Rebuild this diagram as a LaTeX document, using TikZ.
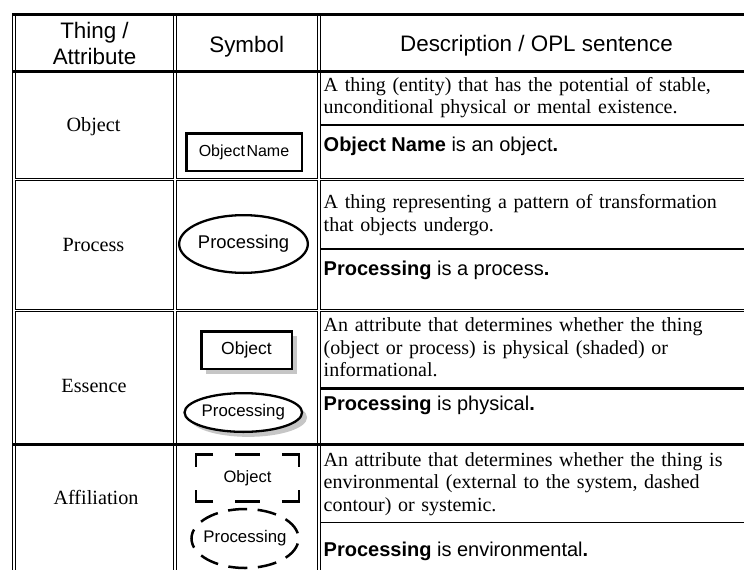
\documentclass[tikz,border=0pt]{standalone}
\usepackage{fontspec}
\setmainfont{Liberation Serif}
\setsansfont{Liberation Sans}
\usetikzlibrary{shapes.geometric,shadows}

\tikzset{
  cellbox/.style={line width=1pt},
  heavyrule/.style={line width=3pt},
  hdr/.style={anchor=base, inner sep=0pt, align=center, font=\sffamily\fontsize{22.4}{25.7}\selectfont},
  lbl/.style={anchor=base, inner sep=0pt, font=\fontsize{20.2}{22.5}\selectfont},
  desc/.style={anchor=base west, inner sep=0pt, text width=418pt, align=left, font=\fontsize{20}{22.5}\selectfont},
  opl/.style={anchor=base west, inner sep=0pt, font=\sffamily\fontsize{20}{22}\selectfont},
  objbox/.style={draw, rectangle, line width=2.5pt, inner sep=0pt, fill=white, font=\sffamily\fontsize{17.5}{20}\selectfont},
  procell/.style={draw, ellipse, line width=2.3pt, inner sep=0pt, fill=white, font=\sffamily\fontsize{16.8}{20}\selectfont},
  physical/.style={drop shadow={shadow xshift=5pt, shadow yshift=-5pt, fill=gray!45, opacity=1}},
  envir/.style={line width=2.5pt},
}

\begin{document}
\begin{tikzpicture}[x=1pt,y=-1pt]
	\clip (0,0) rectangle (744,570);
	% table cells
	\foreach \ya/\yb in {14.8/71.3, 71.3/178.3, 180.7/309, 311.3/444.3, 444.3/590} {
		\foreach \xa/\xb in {15.3/173.6, 176.1/317.6, 320.3/760} {
			\draw[cellbox] (\xa,\ya) rectangle (\xb,\yb);
		}
	}
	\draw[cellbox] (12.5,13.3) -- (12.5,600);
	\foreach \y in {14.8, 71.3, 444.3} {
		\draw[heavyrule] (11.9,\y) -- (760,\y);
	}
	% splits in the description column
	\foreach \y/\w in {125/1.3, 248.8/1.5, 388.3/2.4, 522.3/1.5} {
		\draw[line width=\w pt] (320.3,\y) -- (760,\y);
	}

	% header
	\node[hdr] (hthing) at (94.5,64.5) {Thing /\\Attribute};
	\node[hdr] (hsym) at (246.7,52.3) {Symbol};
	\node[hdr] (hdesc) at (536.5,51.5) {Description / OPL sentence};

	% row labels
	\node[lbl] (lobject) at (93.5,131.7) {Object};
	\node[lbl] (lprocess) at (93.5,251.3) {Process};
	\node[lbl] (lessence) at (94,392.5) {Essence};
	\node[lbl] (laffil) at (96,504) {Affiliation};

	% symbols
	\node[objbox, minimum width=115.5pt, minimum height=37.5pt, font=\sffamily\fontsize{16}{18}\selectfont] (sobject) at (244,152) {Object\hspace{1.5pt}Name};
	\node[procell, minimum width=120.7pt, minimum height=57.7pt, font=\sffamily\fontsize{18.4}{20}\selectfont] (sprocess) at (243.5,244) {Processing};
	\node[objbox, physical, minimum width=90.5pt, minimum height=37.5pt] (eobject) at (246.5,350) {Object};
	\node[procell, physical, minimum width=99pt, minimum height=38.7pt] (eprocess) at (243.3,412.5) {Processing};
	\node[inner sep=0pt, minimum width=102.5pt, minimum height=46.6pt, font=\sffamily\fontsize{16.5}{20}\selectfont] (aobject) at (247.5,478) {Object};
	\node[procell, draw=none, fill=none, minimum width=107pt, minimum height=59pt] (aprocess) at (245,538.5) {Processing};

	% dashed contours
	\draw[envir] ([xshift=17pt]aobject.north west) -- (aobject.north west) -- ([yshift=-12pt]aobject.north west);
	\draw[envir] ([xshift=-17pt]aobject.north east) -- (aobject.north east) -- ([yshift=-12pt]aobject.north east);
	\draw[envir] ([xshift=17pt]aobject.south west) -- (aobject.south west) -- ([yshift=12pt]aobject.south west);
	\draw[envir] ([xshift=-17pt]aobject.south east) -- (aobject.south east) -- ([yshift=12pt]aobject.south east);
	\draw[envir] ([xshift=-12.5pt]aobject.north) -- ([xshift=12.5pt]aobject.north);
	\draw[envir] ([xshift=-12.5pt]aobject.south) -- ([xshift=12.5pt]aobject.south);
	\draw[envir, dash pattern=on 19pt off 10.6pt, dash phase=24.3pt] (aprocess.center) ellipse [x radius=53.5pt, y radius=29.5pt];

	% descriptions and OPL sentences
	\node[desc] (dobject) at (323.5,91) {A thing (entity) that has the potential of stable,\\unconditional physical or mental existence.};
	\node[opl] (oobject) at (323.5,151) {\textbf{Object Name} is an object\textbf{.}};
	\node[desc] (dprocess) at (323.5,208.5) {A thing representing a pattern of transformation\\that objects undergo.};
	\node[opl] (oprocess) at (323.5,275) {\textbf{Processing} is a process\textbf{.}};
	\node[desc] (dessence) at (323.5,331.5) {An attribute that determines whether the thing\\(object or process) is physical (shaded) or\\informational.};
	\node[opl] (oessence) at (323.5,410.5) {\textbf{Processing} is physical\textbf{.}};
	\node[desc] (daffil) at (323.5,466) {An attribute that determines whether the thing is\\environmental (external to the system, dashed\\contour) or systemic.};
	\node[opl] (oaffil) at (323.5,556) {\textbf{Processing} is environmental\textbf{.}};
\end{tikzpicture}
\end{document}
